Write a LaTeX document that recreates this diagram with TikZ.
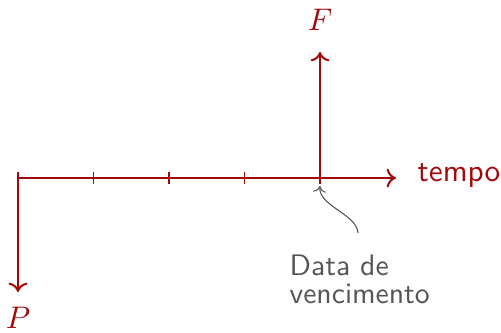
\documentclass[tikz,border=0pt]{standalone}
\usetikzlibrary{arrows.meta}
\definecolor{axred}{HTML}{A00A0A}
\definecolor{notegray}{HTML}{555555}
\tikzset{
  axis/.style={draw=axred, line width=0.65pt},
  tick/.style={draw=axred, line width=0.4pt},
  lab/.style={text=axred, inner sep=0pt},
  note/.style={text=notegray, font=\sffamily, align=left, inner sep=0pt, scale=0.95},
  callout/.style={draw=notegray, line width=0.35pt}
}
\begin{document}
\begin{tikzpicture}[x=0.32pt, y=-0.32pt]
\useasboundingbox (0,0) rectangle (501,333);
\coordinate (O) at (18,178);
\coordinate (T1) at (93.5,178);
\coordinate (T2) at (169,178);
\coordinate (T3) at (244.5,178);
\coordinate (T4) at (320,178);
\coordinate (E) at (396,178);
\coordinate (U) at (320,52);
\coordinate (D) at (18,292);
\coordinate (C) at (358,233);
\coordinate (Ctip) at (320,186);
\draw[axis,-{To[length=3pt,width=6pt]}] (O) -- (E);
\draw[axis,-{To[length=3pt,width=6pt]}] (T4) -- (U);
\draw[axis,-{To[length=3pt,width=6pt]}] (O) -- (D);
\draw[tick] (O) -- ++(0,-6);
\foreach \t in {T1,T2,T3,T4} \draw[tick] (\t) ++(0,-6) -- ++(0,12);
\node[lab] (F) at (320,20) {$F$};
\node[lab] (P) at (18,318) {$P$};
\node[lab, anchor=west, font=\sffamily] (tempo) at (417,176) {tempo};
\node[note, anchor=north west] (venc) at (289,254) {Data de\\[-2.5pt]vencimento};
\draw[callout,-{To[length=2pt,width=4pt]}] (C) .. controls (357,214) and (318,206) .. (Ctip);
\end{tikzpicture}
\end{document}
